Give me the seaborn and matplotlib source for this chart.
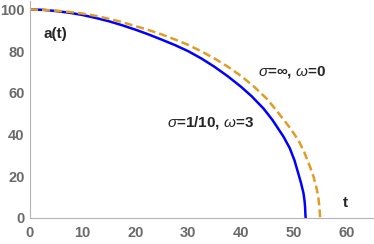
"""
Decay curves a(t) for two parameter sets, Mathematica-style axes.
"""

import matplotlib
matplotlib.use("Agg")
import matplotlib.pyplot as plt
import pandas as pd
import seaborn as sns
from matplotlib.ticker import MultipleLocator

# -----------------------------
# Data
# -----------------------------
t_blue = [0, 2.5, 5, 7.5, 10, 12.5, 15, 17.5, 20, 22.5, 25, 27.5, 30, 32.5,
          35, 37.5, 40, 42, 44.3, 46, 48.1, 49.3, 50.2, 50.9, 51.4, 51.9,
          52.1, 52.2, 52.25, 52.3]
a_blue = [100, 99.8, 99.2, 98.4, 97.3, 95.9, 94.3, 92.4, 90.3, 88, 85.5, 82.9,
          80, 76.5, 72.5, 68, 63, 58.5, 52.5, 47, 39, 33.4, 27.5, 21.4,
          17, 11.8, 8, 5, 2, 0]

t_orange = [0, 2.5, 5, 7.5, 10, 12.5, 15, 17.5, 20, 22.5, 25, 27.5, 30, 32.5,
            35, 37.5, 40, 42.5, 45, 47, 49.3, 50.9, 52, 53.1, 53.8, 54.3,
            54.7, 54.9, 55, 55.03]
a_orange = [100, 99.8, 99.4, 98.8, 98, 96.9, 95.5, 93.9, 92, 90.1, 88, 85.6,
            83, 79.9, 76.5, 72.6, 68.2, 63, 57, 50.8, 43.3, 37.4, 31.8, 24.8,
            19.8, 15, 10.2, 5.5, 2, 0]

label_blue = r"$\sigma$=1/10, $\omega$=3"
label_orange = r"$\sigma$=∞, $\omega$=0"

x_ticks = [0, 10, 20, 30, 40, 50, 60]
y_ticks = [0, 20, 40, 60, 80, 100]

BLUE = "#0000ff"
ORANGE = "#e19c24"
AXIS_GREY = "#b4b4b4"
LABEL_GREY = "#6a6a6a"

sns.set_theme(style="white")
plt.rcParams["font.family"] = ["Liberation Sans", "DejaVu Sans"]
plt.rcParams["mathtext.fontset"] = "custom"
plt.rcParams["mathtext.rm"] = "Liberation Sans:bold"
plt.rcParams["mathtext.it"] = "Liberation Sans:italic"
plt.rcParams["mathtext.bf"] = "Liberation Sans:bold"


def main() -> None:
    fig = plt.figure(figsize=(3.74, 2.44), dpi=100)
    ax = fig.add_axes([0.0802, 0.1066, 0.916, 0.889])

    blue = pd.DataFrame({"t": t_blue, "a": a_blue})
    orange = pd.DataFrame({"t": t_orange, "a": a_orange})

    sns.lineplot(data=blue, x="t", y="a", color=BLUE, lw=1.8, ax=ax,
                 sort=False, estimator=None, solid_joinstyle="round")
    sns.lineplot(data=orange, x="t", y="a", color=ORANGE, lw=1.8, ax=ax,
                 sort=False, estimator=None, linestyle=(0, (3.2, 1.6)))

    ax.set_xlim(0, 65)
    ax.set_ylim(0, 104)
    ax.set_xlabel("")
    ax.set_ylabel("")

    for side in ["top", "right"]:
        ax.spines[side].set_visible(False)
    for side in ["left", "bottom"]:
        ax.spines[side].set_color(AXIS_GREY)
        ax.spines[side].set_linewidth(0.8)

    ax.set_xticks(x_ticks)
    ax.set_yticks(y_ticks)
    ax.xaxis.set_minor_locator(MultipleLocator(2))
    ax.yaxis.set_minor_locator(MultipleLocator(5))
    ax.tick_params(which="major", direction="in", length=4, width=0.8,
                   color=AXIS_GREY, labelsize=10.5, labelcolor=LABEL_GREY)
    ax.tick_params(which="minor", direction="in", length=2, width=0.6,
                   color=AXIS_GREY)
    ax.tick_params(axis="x", which="major", pad=6)
    ax.tick_params(axis="y", which="major", pad=4)
    for lbl in ax.get_xticklabels() + ax.get_yticklabels():
        lbl.set_fontweight("bold")

    ax.text(4.9, 88.2, "a(t)", fontsize=11, fontweight="bold",
            ha="center", va="center")
    ax.text(59.9, 7, "t", fontsize=11, fontweight="bold",
            ha="center", va="center")
    ax.text(49.8, 70, label_orange, fontsize=11, fontweight="bold",
            ha="center", va="center")
    ax.text(34.2, 46, label_blue, fontsize=11, fontweight="bold",
            ha="center", va="center")

    fig.savefig("out.png", dpi=100)
    plt.close(fig)


if __name__ == "__main__":
    main()
